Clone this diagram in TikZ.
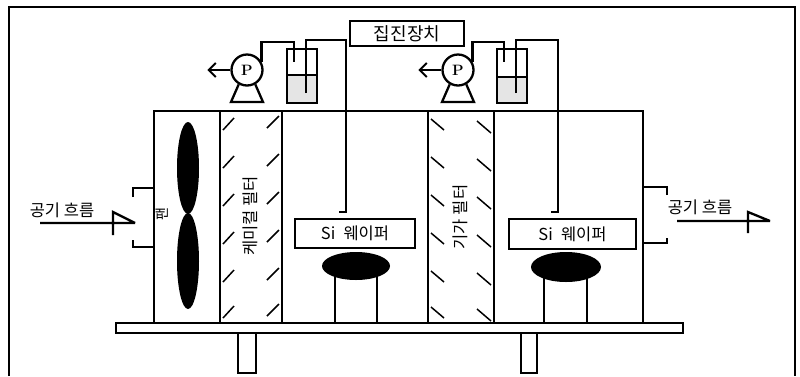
\documentclass[tikz,border=0pt]{standalone}
\usepackage{fontspec}
\newfontfamily\krfont{Noto Sans CJK KR}
\usetikzlibrary{arrows.meta}

\begin{document}
\begin{tikzpicture}[x=1pt,y=-1pt,
    wall/.style={line width=2.6pt},
    pipe/.style={line width=2.3pt},
    thinline/.style={line width=1.6pt},
    hatch/.style={line width=1.5pt},
    lbl/.style={font=\krfont\fontsize{16.5}{16.5}\selectfont,inner sep=0pt},
    tag/.style={draw,line width=1.6pt,lbl},
    pump/.style={draw,circle,pipe,minimum size=31pt,inner sep=0pt,font=\fontsize{15}{15}\selectfont\bfseries},
    outlet/.style={pipe,-{Straight Barb[length=7pt,width=14pt,line width=2pt]}}]
    \useasboundingbox (0,0) rectangle (800,376);
    \draw[thinline] (9,376) -- (9,7) -- (795,7) -- (795,376);

    % housing and filters
    \draw[wall] (154,323) -- (154,111) -- (643,111) -- (643,323);
    \draw[wall] (220,111) -- (220,323) (282,111) -- (282,323)
        (428,111) -- (428,323) (494,111) -- (494,323);
    \foreach \y in {124,162,200,238,276,312} {
        \draw[hatch] (223,\y+6) -- (234,\y-6);
        \draw[hatch] (267,\y+4) -- (279,\y-8);
        \draw[hatch] (431,\y-5) -- (444,\y+6);
        \draw[hatch] (477,\y-3) -- (491,\y+9);
    }
    \node[lbl,rotate=90] (chemfilter) at (250,216) {케미컬 필터};
    \node[lbl,rotate=90] (gigafilter) at (460,217) {기가 필터};

    % fan
    \fill (188,168) ellipse [x radius=11pt,y radius=46pt];
    \fill (188,261) ellipse [x radius=11pt,y radius=48pt];
    \node[lbl,font=\krfont\fontsize{14}{14}\selectfont,rotate=90] (fan) at (162,214) {팬};

    % base and legs
    \draw[wall] (116,323) rectangle (683,333);
    \draw[wall] (238,333) rectangle (256,373) (521,333) rectangle (537,373);

    % wafers on stands
    \fill (356,266) ellipse [x radius=34pt,y radius=14pt];
    \draw[pipe] (335,276) -- (335,323) (377,276) -- (377,323);
    \fill (566,267) ellipse [x radius=35pt,y radius=15pt];
    \draw[pipe] (544,278) -- (544,323) (587,278) -- (587,323);
    \node[tag,minimum width=120pt,minimum height=29pt] (wafer1) at (355,233.5) {Si\enspace 웨이퍼};
    \node[tag,minimum width=127pt,minimum height=30pt] (wafer2) at (572.5,234) {Si\enspace 웨이퍼};

    % collectors
    \node[tag,font=\krfont\fontsize{18}{18}\selectfont,minimum width=114pt,minimum height=25pt] (collector) at (407,33.5) {집진장치};
    \foreach \n/\px/\bx/\lv/\sx in {1/247/287/75/346, 2/458/497/77/558} {
        \node[pump] (pump\n) at (\px,70) {P};
        \draw[outlet] (pump\n.west) -- ++(-23,0);
        \draw[pipe] (pump\n.240) -- (\px-16,102) -- (\px+16,102) -- (pump\n.300);
        \fill[black!10] (\bx,\lv) rectangle (\bx+30,103);
        \draw[pipe] (\bx,49) rectangle (\bx+30,103) (\bx,\lv) -- (\bx+30,\lv);
        \draw[pipe] (pump\n.30) |- (\bx+7,42) -- (\bx+7,62);
        \coordinate (inlet\n) at (\sx-7,212);
        \draw[pipe] (\bx+19,93) -- (\bx+19,40) -| (\sx,212) -- (inlet\n);
    }

    % air flow
    \draw[thinline] (133,197) -- (133,188) -- (154,188) (133,240) -- (133,247) -- (154,247);
    \draw[pipe] (40,223) -- (135,223) (113,235) -- (113,212) -- (135,223);
    \node[lbl] (airin) at (62,210) {공기 흐름};
    \draw[thinline] (667,195) -- (667,187) -- (643,187) (667,238) -- (667,243) -- (643,243);
    \draw[pipe] (677,221) -- (770,221) (748,233) -- (748,212) -- (770,221);
    \node[lbl] (airout) at (700,207) {공기 흐름};
\end{tikzpicture}
\end{document}
